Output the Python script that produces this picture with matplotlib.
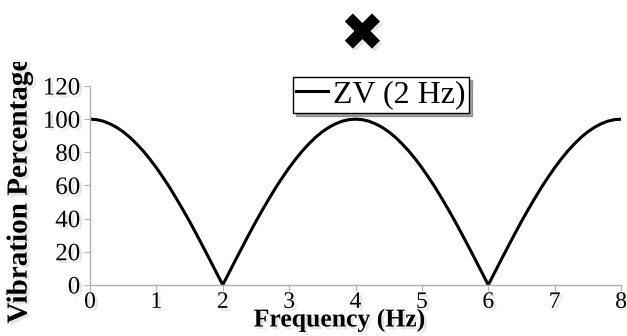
import matplotlib.pyplot as plt
import matplotlib.patheffects as pe
from matplotlib.transforms import Bbox, TransformedBbox

# vibration percentage, every 0.1 Hz from 0 to 8 Hz
freq = [i / 10 for i in range(81)]
vib = [100, 99.7, 98.8, 97.2, 95.1, 92.4, 89.1, 85.2, 80.9, 76.0,
       70.7, 64.9, 58.8, 52.2, 45.4, 38.3, 30.9, 23.3, 15.6, 7.8,
       0, 7.8, 15.6, 23.3, 30.9, 38.3, 45.4, 52.2, 58.8, 64.9,
       70.7, 76.0, 80.9, 85.2, 89.1, 92.4, 95.1, 97.2, 98.8, 99.7,
       100, 99.7, 98.8, 97.2, 95.1, 92.4, 89.1, 85.2, 80.9, 76.0,
       70.7, 64.9, 58.8, 52.2, 45.4, 38.3, 30.9, 23.3, 15.6, 7.8,
       0, 7.8, 15.6, 23.3, 30.9, 38.3, 45.4, 52.2, 58.8, 64.9,
       70.7, 76.0, 80.9, 85.2, 89.1, 92.4, 95.1, 97.2, 98.8, 99.7,
       100]
label = 'ZV (2 Hz)'
x_ticks = [0, 1, 2, 3, 4, 5, 6, 7, 8]
y_ticks = [0, 20, 40, 60, 80, 100, 120]

shadow = [pe.SimplePatchShadow(offset=(2, -2), shadow_rgbFace='0.8', alpha=0.5), pe.Normal()]

plt.rcParams['font.family'] = ['Liberation Serif', 'DejaVu Sans']

fig = plt.figure(figsize=(6.27, 3.36), dpi=100)
ax = fig.add_axes([0.1435, 0.152, 0.847, 0.592])

ax.plot(freq, vib, color='black', lw=2.2, label=label)
ax.set_xlim(0, 8)
ax.set_ylim(0, 120)
ax.set_xticks(x_ticks)
ax.set_yticks(y_ticks)

for s in ['top', 'right']:
    ax.spines[s].set_visible(False)
for s in ['left', 'bottom']:
    ax.spines[s].set_color('#b0b0b0')
    ax.spines[s].set_linewidth(1)
ax.tick_params(direction='out', length=4, color='#b0b0b0', labelsize=18, pad=3)
ax.tick_params(axis='x', labelsize=17, pad=1)
for t in ax.get_xticklabels() + ax.get_yticklabels():
    t.set_path_effects(shadow)

xl = ax.set_xlabel('Frequency (Hz)', fontsize=18.5, fontweight='bold')
yl = ax.set_ylabel('Vibration Percentage', fontsize=21, fontweight='bold')
ax.xaxis.set_label_coords(0.47, -0.12)
ax.yaxis.set_label_coords(-0.108, 0.47)
xl.set_path_effects(shadow)
yl.set_path_effects(shadow)
# the y label is cut off at the top in the original
yl.set_clip_box(TransformedBbox(Bbox([[0, 0], [1, 0.815]]), fig.transFigure))
yl.set_clip_on(True)

leg = ax.legend(loc='lower center', bbox_to_anchor=(0.548, 0.865), fontsize=23,
                frameon=True, fancybox=False, shadow=True, edgecolor='black',
                handlelength=1.0, handletextpad=0.15, borderpad=0.1,
                borderaxespad=0)
leg.get_frame().set_linewidth(1)

fig.text(0.578, 0.895, '\u2716', ha='center', va='center', fontsize=38,
         family='DejaVu Sans', path_effects=shadow)

fig.savefig('out.png', dpi=100)
